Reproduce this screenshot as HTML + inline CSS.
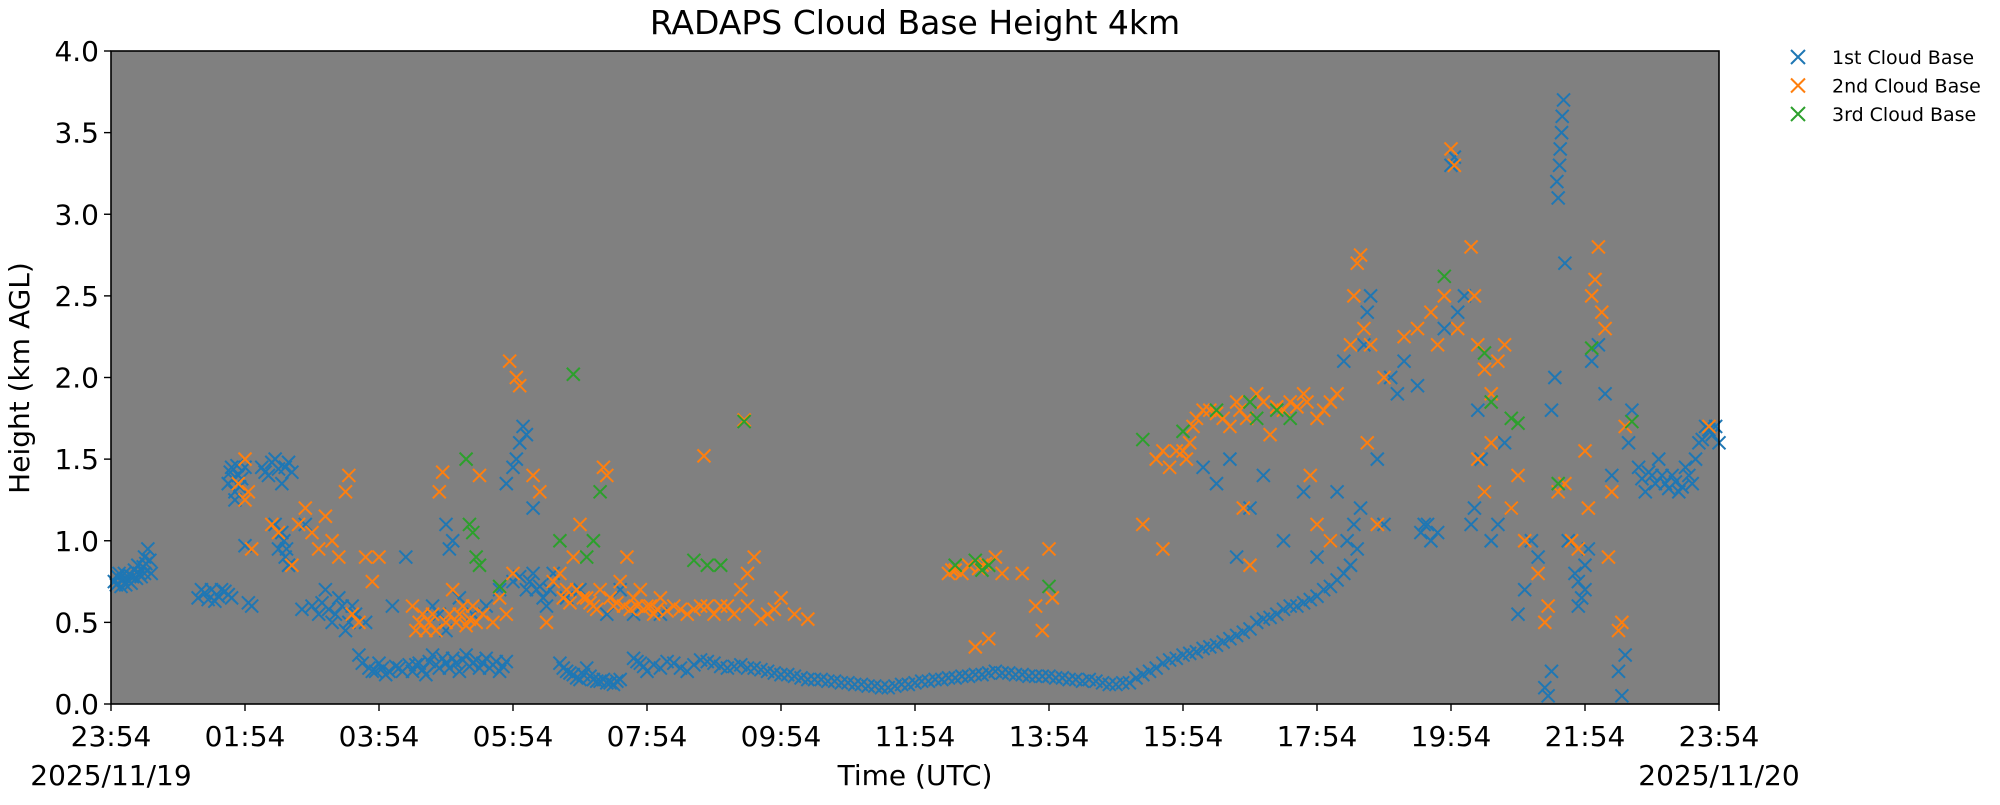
<!DOCTYPE html>
<html><head><meta charset="utf-8"><style>
body{margin:0;background:#fff;width:2000px;height:800px;overflow:hidden}
svg{font-family:"DejaVu Sans","Liberation Sans",sans-serif}
</style></head><body>
<svg id="chart" width="2000" height="800" xmlns="http://www.w3.org/2000/svg">
<rect x="111" y="51" width="1608" height="653" fill="#808080"/>
<g id="marks"></g>
<rect x="111" y="51" width="1608" height="653" fill="none" stroke="#000" stroke-width="1.6"/>
<g id="axes"></g>
<text x="915" y="34" font-size="33" text-anchor="middle">RADAPS Cloud Base Height 4km</text>
<text x="915" y="785" font-size="28" text-anchor="middle">Time (UTC)</text>
<text x="111" y="785" font-size="28" text-anchor="middle">2025/11/19</text>
<text x="1719" y="785" font-size="28" text-anchor="middle">2025/11/20</text>
<text transform="translate(29,378) rotate(-90)" font-size="28" text-anchor="middle">Height (km AGL)</text>
<g id="legend"></g>
</svg>
<script>
const xTickLabels=["23:54","01:54","03:54","05:54","07:54","09:54","11:54","13:54","15:54","17:54","19:54","21:54","23:54"];
const yTicks=[0,0.5,1,1.5,2,2.5,3,3.5,4];
const seriesNames=["1st Cloud Base","2nd Cloud Base","3rd Cloud Base"];
const seriesColors=["#1f77b4","#ff7f0e","#2ca02c"];
const blue=[[0.05,.75],[0.1,.78],[0.15,.72],[0.2,.8],[0.25,.76],[0.3,.74],[0.35,.82],[0.4,.85],[0.45,.78],[0.5,.9],[0.55,.95],[0.5,.8],
[0.08,.73],[0.18,.76],[0.28,.79],[0.38,.77],[0.48,.84],[0.58,.88],[0.6,.8],[0.12,.8],[0.22,.73],[0.32,.78],[0.42,.8],[0.52,.86],
[1.3,.65],[1.4,.68],[1.5,.7],[1.6,.66],[1.7,.69],[1.8,.65],[1.55,.63],[1.35,.7],[1.45,.64],[1.65,.7],[1.75,.67],
[1.75,1.35],[1.8,1.45],[1.85,1.3],[1.9,1.4],[1.95,1.38],[2.0,1.45],[1.85,1.25],[1.78,1.42],[1.82,1.38],[1.88,1.46],[1.92,1.33],
[2.0,.97],[2.05,.62],[2.1,.6],[2.25,1.45],[2.35,1.4],[2.45,1.5],[2.55,1.35],[2.6,1.45],[2.4,1.48],[2.3,1.42],[2.5,1.44],[2.65,1.48],[2.7,1.42],
[2.5,.95],[2.55,1.05],[2.6,.9],[2.65,.85],[2.45,1.1],[2.58,1.0],[2.62,.95],
[2.85,.58],[2.9,1.1],[3.0,.6],[3.1,.55],[3.2,.7],[3.3,.5],[3.4,.65],[3.5,.45],[3.6,.6],[3.7,.3],[3.8,.5],[3.9,.2],[4.0,.25],[4.1,.18],[4.2,.6],[4.3,.22],[4.4,.9],
[3.15,.62],[3.25,.58],[3.35,.55],[3.45,.6],[3.55,.5],[3.65,.55],[3.75,.25],[3.85,.22],[3.95,.2],[4.05,.22],[4.15,.2],[4.25,.23],[4.35,.2],[4.45,.24],
[4.5,.2],[4.6,.25],[4.7,.18],[4.8,.3],[4.9,.22],[5.0,.25],[5.1,.28],[5.2,.2],[5.3,.3],[5.4,.25],[5.5,.22],[5.6,.28],[5.7,.24],[5.8,.2],[5.9,.26],
[4.55,.24],[4.65,.21],[4.75,.26],[4.85,.24],[4.95,.28],[5.05,.22],[5.15,.25],[5.25,.27],[5.35,.23],[5.45,.27],[5.55,.25],[5.65,.22],[5.75,.26],[5.85,.23],
[4.8,.6],[4.9,.55],[5.0,.45],[5.2,.65],[5.4,.55],[5.6,.6],[5.8,.7],[5.0,1.1],[5.05,.95],[5.1,1.0],
[5.9,1.35],[6.0,1.45],[6.05,1.5],[6.1,1.6],[6.15,1.7],[6.2,1.65],[6.3,1.2],[6.0,.75],[6.2,.7],[6.3,.8],[6.4,.72],[6.5,.6],[6.6,.8],
[6.1,.78],[6.25,.75],[6.35,.7],[6.45,.65],[6.55,.7],
[6.7,.25],[6.8,.2],[6.9,.18],[7.0,.15],[7.1,.22],[7.2,.15],[7.3,.14],[7.4,.13],[7.5,.12],[7.6,.15],
[6.75,.22],[6.85,.19],[6.95,.16],[7.05,.18],[7.15,.17],[7.25,.14],[7.35,.15],[7.45,.13],[7.55,.14],
[6.8,.65],[7.0,.7],[7.2,.6],[7.4,.55],[7.6,.7],[7.8,.55],[8.0,.6],[8.2,.55],
[7.8,.28],[7.9,.25],[8.0,.2],[8.2,.22],[8.4,.25],[8.6,.2],[8.8,.27],[9.0,.25],[9.2,.22],[9.4,.24],[9.6,.22],[9.8,.2],[10.0,.18],[10.2,.17],[10.4,.15],[10.6,.15],[10.8,.14],[11.0,.13],[11.2,.12],[11.4,.11],[11.6,.1],[11.8,.12],[12.0,.13],[12.2,.14],[12.4,.15],[12.6,.16],[12.8,.17],[13.0,.18],[13.2,.2],[13.4,.19],[13.6,.18],[13.8,.17],[14.0,.17],[14.2,.16],[14.4,.15],[14.6,.15],[14.8,.13],[15.0,.12],[15.2,.13],[15.4,.18],[15.6,.22],[15.8,.27],[16.0,.3],[16.2,.32],[16.4,.35],[16.6,.38],[16.8,.42],[17.0,.46],[17.2,.52],[17.4,.55],[17.6,.6],[17.8,.62],[18.0,.66],[18.2,.72],[18.4,.8],
[7.85,.26],[7.95,.23],[8.1,.24],[8.3,.26],[8.5,.22],[8.7,.24],[8.9,.26],[9.1,.23],[9.3,.23],[9.5,.22],[9.7,.21],[9.9,.19],[10.1,.18],[10.3,.16],[10.5,.15],[10.7,.14],[10.9,.13],[11.1,.12],[11.3,.11],[11.5,.1],[11.7,.11],[11.9,.12],[12.1,.14],[12.3,.15],[12.5,.16],[12.7,.17],[12.9,.18],[13.1,.19],[13.3,.19],[13.5,.18],[13.7,.17],[13.9,.17],[14.1,.16],[14.3,.15],[14.5,.14],[14.7,.14],[14.9,.12],[15.1,.13],[15.3,.16],[15.5,.2],[15.7,.25],[15.9,.28],[16.1,.31],[16.3,.34],[16.5,.36],[16.7,.4],[16.9,.44],[17.1,.5],[17.3,.53],[17.5,.58],[17.7,.6],[17.9,.64],[18.1,.7],[18.3,.76],
[16.3,1.45],[16.5,1.35],[16.7,1.5],[16.8,0.9],[17.0,1.2],[17.2,1.4],[17.5,1.0],[17.8,1.3],[18.0,0.9],
[18.2,1.0],[18.3,1.3],[18.4,2.1],[18.5,0.85],[18.6,0.95],[18.7,2.2],[18.75,2.4],[18.8,2.5],[18.9,1.5],[19.0,1.1],[19.1,2.0],[19.2,1.9],[19.3,2.1],[19.5,1.95],[19.6,1.1],[19.7,1.0],[19.8,1.05],[19.9,2.3],[20.0,3.3],[20.05,3.35],[20.1,2.4],[20.2,2.5],[20.3,1.1],[20.4,1.8],[20.5,1.3],[20.6,1.0],[20.7,1.1],[20.8,1.6],[20.9,1.2],[21.0,.55],[21.1,.7],[21.2,1.0],[21.3,.9],[21.4,.1],[21.45,.05],[21.5,.2],[21.5,1.8],[21.55,2.0],[21.6,3.1],[21.62,3.3],[21.65,3.5],[21.68,3.7],[21.7,2.7],[21.75,1.0],[21.85,.8],[21.9,.6],[22.0,.7],[22.05,.95],[22.1,2.1],[22.2,2.2],[22.3,1.9],[22.4,1.4],[22.5,.2],[22.55,.05],[22.6,.3],[22.65,1.6],[22.7,1.8],[22.8,1.45],[22.9,1.3],[23.0,1.4],[23.1,1.5],[23.2,1.35],[23.3,1.4],[23.4,1.3],[23.5,1.45],[23.6,1.35],[23.7,1.6],[23.8,1.7],[23.9,1.65],[24.0,1.6],
[18.45,1.0],[18.55,1.1],[18.65,1.2],[19.55,1.05],[19.65,1.1],[20.35,1.2],[20.45,1.5],[21.58,3.2],[21.63,3.4],[21.66,3.6],[21.9,.75],[21.95,.65],[22.0,.85],[22.85,1.38],[22.95,1.42],[23.05,1.35],[23.15,1.4],[23.25,1.32],[23.35,1.36],[23.45,1.33],[23.55,1.4],[23.65,1.5],[23.75,1.62],[23.85,1.68],[23.95,1.7]];
const orange=[[1.9,1.35],[2.0,1.5],[2.05,1.3],[2.1,.95],[2.0,1.25],[2.4,1.1],[2.5,1.05],[2.7,.85],[2.8,1.1],[2.9,1.2],[3.0,1.05],[3.1,.95],[3.2,1.15],[3.3,1.0],[3.4,.9],[3.5,1.3],[3.55,1.4],[3.6,.55],[3.7,.5],[3.8,.9],[3.9,.75],[4.0,.9],[4.5,.6],[4.6,.5],[4.7,.45],[4.8,.55],[4.9,1.3],[4.95,1.42],[5.0,.5],[5.1,.7],[5.2,.55],[5.3,.48],[5.4,.6],[5.5,1.4],[5.7,.5],[5.8,.65],[5.9,.55],[6.0,.8],[5.95,2.1],[6.05,2.0],[6.1,1.95],[6.3,1.4],[6.4,1.3],[6.5,.5],[6.7,.8],[6.8,.7],[6.9,.9],[7.0,1.1],[7.1,.65],[7.2,.6],[7.3,.7],[7.35,1.45],[7.4,1.4],[7.5,.6],[7.6,.75],[7.7,.9],[7.8,.65],[7.9,.7],[8.0,.6],[8.1,.55],[8.2,.65],[8.4,.6],[8.6,.55],[8.8,.6],[9.0,.55],[9.2,.6],[9.4,.7],[9.5,.8],[9.6,.9],[8.85,1.52],[9.45,1.74],[9.8,.55],[10.0,.65],[10.2,.55],[10.4,.52],
[4.55,.45],[4.65,.55],[4.75,.5],[4.85,.45],[5.05,.55],[5.15,.5],[5.25,.6],[5.35,.52],[5.45,.5],[5.55,.55],
[6.6,.75],[6.75,.65],[6.85,.62],[6.95,.7],[7.05,.65],[7.15,.62],[7.25,.58],[7.45,.65],[7.55,.62],[7.65,.6],[7.75,.58],[7.85,.6],[7.95,.58],[8.05,.6],[8.15,.58],[8.3,.57],[8.5,.58],[8.7,.58],[8.9,.6],[9.1,.6],[9.3,.55],[9.5,.6],[9.7,.52],[9.9,.58],
[12.5,.8],[12.6,.82],[12.8,.85],[12.9,.35],[13.0,.85],[13.1,.4],[13.2,.9],[13.3,.8],[13.6,.8],[13.8,.6],[13.9,.45],[14.0,.95],[14.05,.65],[15.4,1.1],[15.7,.95],[15.6,1.5],[15.7,1.55],[15.8,1.45],[16.0,1.55],[16.1,1.6],[16.2,1.75],[16.4,1.8],[16.6,1.75],[16.8,1.85],[16.9,1.2],[17.0,.85],[17.1,1.9],[17.3,1.65],[17.5,1.8],[17.6,1.85],[17.8,1.9],[17.9,1.4],[18.0,1.1],[18.1,1.8],[18.2,1.0],[18.3,1.9],
[12.55,.82],[12.7,.8],[12.95,.83],[13.05,.86],[15.9,1.55],[16.05,1.5],[16.15,1.7],[16.3,1.8],[16.5,1.78],[16.7,1.7],[16.85,1.8],[16.95,1.75],[17.2,1.85],[17.4,1.82],[17.7,1.82],[17.85,1.85],[18.0,1.75],[18.2,1.85],
[18.5,2.2],[18.55,2.5],[18.6,2.7],[18.65,2.75],[18.7,2.3],[18.75,1.6],[18.8,2.2],[18.9,1.1],[19.0,2.0],[19.3,2.25],[19.5,2.3],[19.7,2.4],[19.8,2.2],[19.9,2.5],[20.0,3.4],[20.05,3.3],[20.1,2.3],[20.3,2.8],[20.35,2.5],[20.4,2.2],[20.5,2.05],[20.6,1.9],[20.7,2.1],[20.4,1.5],[20.5,1.3],[20.6,1.6],[20.8,2.2],[20.9,1.2],[21.0,1.4],[21.1,1.0],[21.3,.8],[21.4,.5],[21.45,.6],[21.6,1.3],[21.7,1.35],[21.8,1.0],[21.9,.95],[22.0,1.55],[22.05,1.2],[22.1,2.5],[22.15,2.6],[22.2,2.8],[22.25,2.4],[22.3,2.3],[22.35,.9],[22.4,1.3],[22.5,.45],[22.55,.5],[22.6,1.7],[23.85,1.7]];
const green=[[5.3,1.5],[5.35,1.1],[5.4,1.05],[5.45,.9],[5.5,.85],[5.8,.72],[6.7,1.0],[6.9,2.02],[7.1,.9],[7.2,1.0],[7.3,1.3],[8.7,.88],[8.9,.85],[9.1,.85],[9.45,1.73],[12.6,.85],[12.9,.88],[13.0,.82],[13.1,.85],[14.0,.72],[15.4,1.62],[16.0,1.67],[16.5,1.8],[17.0,1.85],[17.1,1.75],[17.4,1.8],[17.6,1.75],[19.9,2.62],[20.5,2.15],[20.6,1.85],[20.9,1.75],[21.0,1.72],[21.6,1.35],[22.1,2.18],[22.7,1.73]];

const NS="http://www.w3.org/2000/svg";
const X0=111,X1=1719,Y0=704,Y1=51;
function xs(t){return X0+t*(X1-X0)/24;}
function ys(h){return Y0-h*(Y0-Y1)/4;}
const marks=document.getElementById('marks');
function drawX(g,cx,cy,s,color){
  const p=document.createElementNS(NS,'path');
  p.setAttribute('d',`M${cx-s},${cy-s}L${cx+s},${cy+s}M${cx-s},${cy+s}L${cx+s},${cy-s}`);
  p.setAttribute('stroke',color);p.setAttribute('stroke-width','2');p.setAttribute('fill','none');
  g.appendChild(p);return p;
}
[blue,orange,green].forEach((arr,i)=>{
  const g=document.createElementNS(NS,'g');
  
  
  marks.appendChild(g);
  arr.forEach(d=>{
    const p=drawX(g,xs(d[0]),ys(d[1]),6.5,seriesColors[i]);
    
    
  });
});
const axes=document.getElementById('axes');
xTickLabels.forEach((lab,i)=>{
  const x=xs(i*2);
  const l=document.createElementNS(NS,'line');
  l.setAttribute('x1',x);l.setAttribute('x2',x);l.setAttribute('y1',Y0);l.setAttribute('y2',Y0+7);l.setAttribute('stroke','#000');l.setAttribute('stroke-width','1.4');
  
  
  axes.appendChild(l);
  const t=document.createElementNS(NS,'text');
  t.setAttribute('x',x);t.setAttribute('y',746);t.setAttribute('font-size','28');t.setAttribute('text-anchor','middle');
  t.textContent=lab;
  
  
  axes.appendChild(t);
});
yTicks.forEach(v=>{
  const y=ys(v);
  const l=document.createElementNS(NS,'line');
  l.setAttribute('x1',X0-7);l.setAttribute('x2',X0);l.setAttribute('y1',y);l.setAttribute('y2',y);l.setAttribute('stroke','#000');l.setAttribute('stroke-width','1.4');
  
  
  axes.appendChild(l);
  const t=document.createElementNS(NS,'text');
  t.setAttribute('x',X0-12);t.setAttribute('y',y+10);t.setAttribute('font-size','28');t.setAttribute('text-anchor','end');
  t.textContent=v.toFixed(1);
  
  
  axes.appendChild(t);
});
const legend=document.getElementById('legend');
seriesNames.forEach((n,i)=>{
  const y=57+i*28.5;
  const g=document.createElementNS(NS,'g');
  
  
  legend.appendChild(g);
  drawX(g,1798,y,7,seriesColors[i]);
  const t=document.createElementNS(NS,'text');
  t.setAttribute('x',1832);t.setAttribute('y',y+7);t.setAttribute('font-size','19');
  t.textContent=n;
  g.appendChild(t);
});
</script>
</body></html>
